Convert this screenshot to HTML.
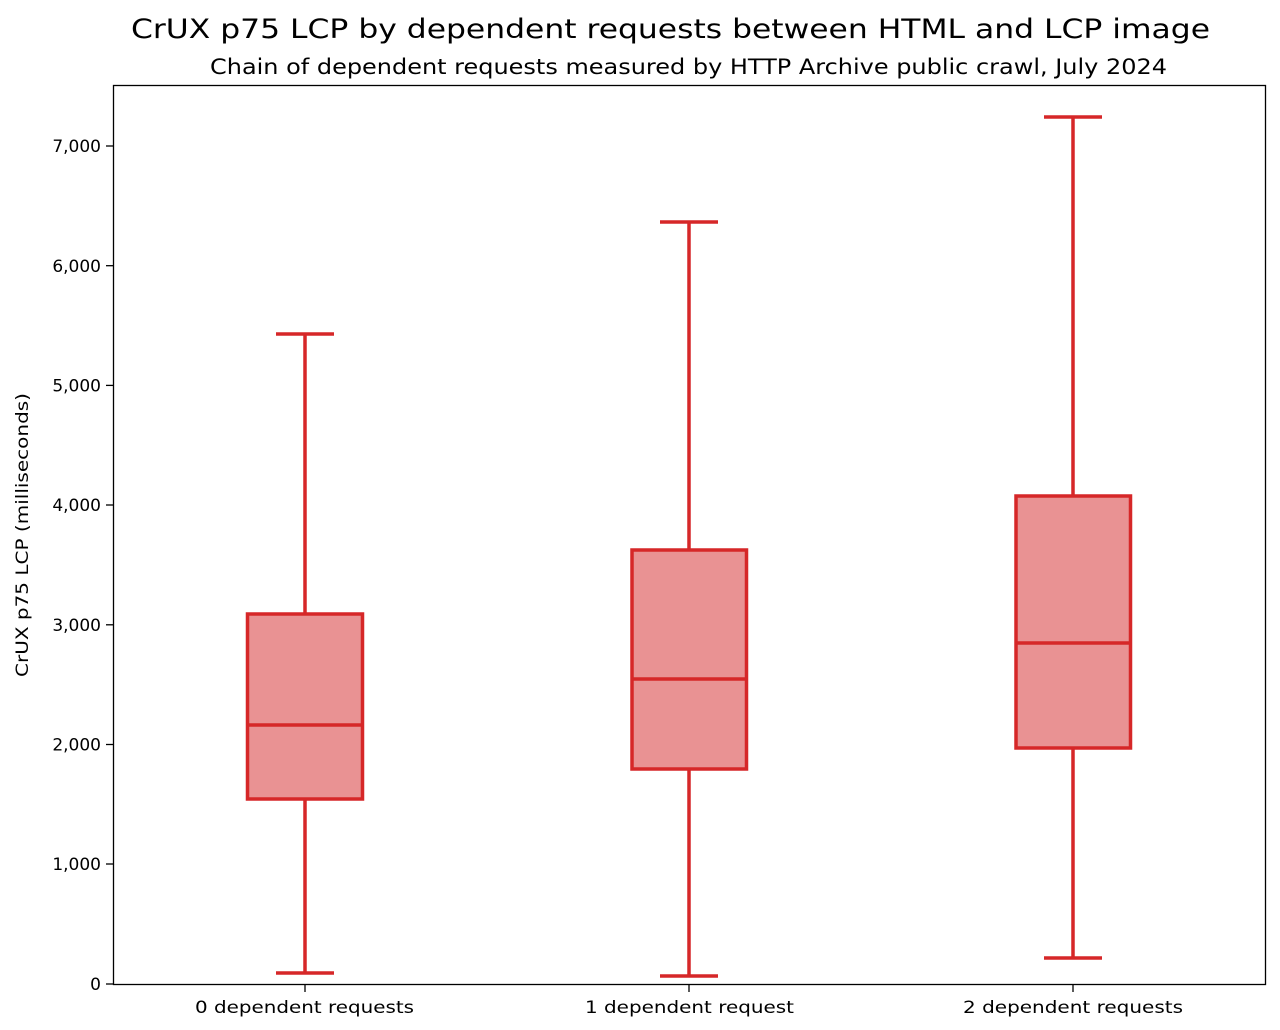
<!DOCTYPE html>
<html><head><meta charset="utf-8"><style>
html,body{margin:0;padding:0;background:#fff;}
svg{display:block;font-family:"DejaVu Sans","Liberation Sans",sans-serif;}
</style></head><body>
<svg width="1280" height="1030" viewBox="0 0 1280 1030" xmlns="http://www.w3.org/2000/svg">
<rect width="1280" height="1030" fill="#fff"/>
<text x="131" y="38" font-size="27" textLength="1079" lengthAdjust="spacingAndGlyphs" fill="#000">CrUX p75 LCP by dependent requests between HTML and LCP image</text>
<text x="210" y="74" font-size="21" textLength="957" lengthAdjust="spacingAndGlyphs" fill="#000">Chain of dependent requests measured by HTTP Archive public crawl, July 2024</text>
<g stroke="#d62728" stroke-width="3.5" fill="#e99293">
<line x1="305" y1="973" x2="305" y2="799"/><line x1="305" y1="614" x2="305" y2="334"/>
<line x1="276" y1="973" x2="334" y2="973"/><line x1="276" y1="334" x2="334" y2="334"/>
<rect x="247.5" y="614" width="115" height="185"/>
<line x1="247.5" y1="725" x2="362.5" y2="725"/>
<line x1="689" y1="976" x2="689" y2="769"/><line x1="689" y1="550" x2="689" y2="222"/>
<line x1="660" y1="976" x2="718" y2="976"/><line x1="660" y1="222" x2="718" y2="222"/>
<rect x="632" y="550" width="114.5" height="219"/>
<line x1="632" y1="679" x2="746.5" y2="679"/>
<line x1="1073" y1="958" x2="1073" y2="748"/><line x1="1073" y1="496" x2="1073" y2="117"/>
<line x1="1044" y1="958" x2="1102" y2="958"/><line x1="1044" y1="117" x2="1102" y2="117"/>
<rect x="1016" y="496" width="114.5" height="252"/>
<line x1="1016" y1="643" x2="1130.5" y2="643"/>
</g>
<rect x="113.5" y="85.5" width="1152" height="899" fill="none" stroke="#000" stroke-width="1.3"/>
<g stroke="#000" stroke-width="1.3">
<line x1="106" y1="984" x2="113" y2="984"/><line x1="106" y1="864" x2="113" y2="864"/>
<line x1="106" y1="744.5" x2="113" y2="744.5"/><line x1="106" y1="624.8" x2="113" y2="624.8"/>
<line x1="106" y1="505" x2="113" y2="505"/><line x1="106" y1="385.4" x2="113" y2="385.4"/>
<line x1="106" y1="265.7" x2="113" y2="265.7"/><line x1="106" y1="146" x2="113" y2="146"/>
<line x1="305" y1="985" x2="305" y2="992"/><line x1="689" y1="985" x2="689" y2="992"/><line x1="1073" y1="985" x2="1073" y2="992"/>
</g>
<g font-size="17" fill="#000" text-anchor="end">
<text x="101" y="990">0</text><text x="101" y="870">1,000</text><text x="101" y="750.5">2,000</text>
<text x="101" y="631">3,000</text><text x="101" y="511">4,000</text><text x="101" y="391.5">5,000</text>
<text x="101" y="272">6,000</text><text x="101" y="152">7,000</text>
</g>
<g font-size="17" fill="#000">
<text x="195" y="1013" textLength="219" lengthAdjust="spacingAndGlyphs">0 dependent requests</text>
<text x="585" y="1013" textLength="209" lengthAdjust="spacingAndGlyphs">1 dependent request</text>
<text x="963" y="1013" textLength="220" lengthAdjust="spacingAndGlyphs">2 dependent requests</text>
</g>
<text transform="translate(28,677) rotate(-90)" font-size="17" textLength="284" lengthAdjust="spacingAndGlyphs" fill="#000">CrUX p75 LCP (milliseconds)</text>
</svg>
</body></html>
